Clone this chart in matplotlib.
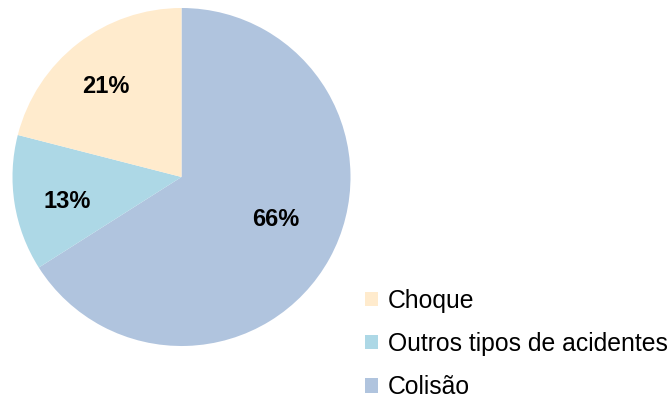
import matplotlib
matplotlib.use("Agg")
import matplotlib.pyplot as plt
import numpy as np
from matplotlib.patches import Patch

categories = ["Colisão", "Outros tipos de acidentes", "Choque"]
values = [66, 13, 21]
labels_pct = ["66%", "13%", "21%"]
colors = ["#B0C4DE", "#ADD8E6", "#FFEBCD"]
legend_order = ["Choque", "Outros tipos de acidentes", "Colisão"]

plt.rcParams['font.family'] = ['Liberation Sans', 'DejaVu Sans']

fig = plt.figure(figsize=(6.69, 4.01), dpi=100)
ax = fig.add_axes([12.5/669, 1 - 346/401, 338/669, 338/401])
wedges, _ = ax.pie(values, colors=colors, startangle=90, counterclock=False,
                   radius=1.0)
ax.set_xlim(-1, 1)
ax.set_ylim(-1, 1)
ax.set_aspect('equal')

# label placement (layout): radial distance and angular offset from wedge middle
dists = [0.61, 0.69, 0.70]
ang_off = [4.5, 3.0, 2.0]
for w, lab, d, off in zip(wedges, labels_pct, dists, ang_off):
    ang = np.deg2rad((w.theta1 + w.theta2) / 2 + off)
    ax.text(d*np.cos(ang), d*np.sin(ang), lab, ha='center', va='center',
            fontsize=17, fontweight='bold', color='#000000')

handles = [Patch(facecolor=colors[categories.index(n)], edgecolor='none') for n in legend_order]
fig.legend(handles, legend_order, loc='upper left',
           bbox_to_anchor=(365/669, 1 - 289/401), frameon=False,
           fontsize=17.8, handlelength=0.52, handleheight=0.52,
           handletextpad=0.42, labelspacing=0.77, borderpad=0, borderaxespad=0)

fig.savefig("out.png", dpi=100)
